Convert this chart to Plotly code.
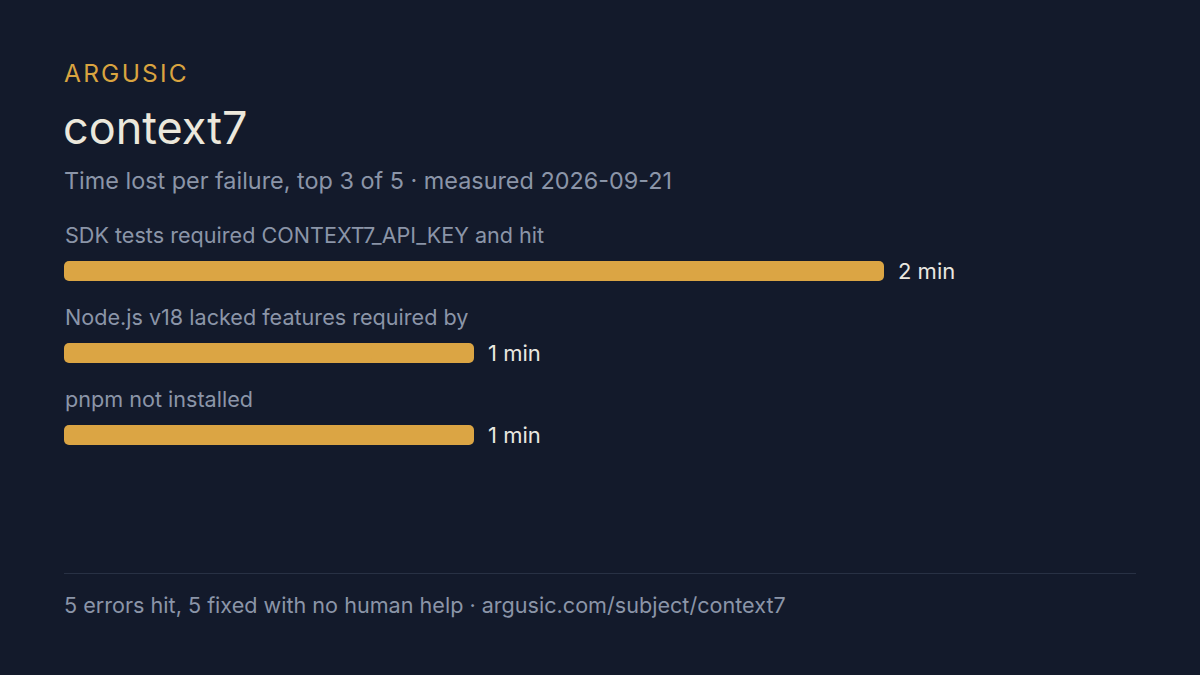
import plotly.graph_objects as go

# ---- data ----
categories = [
    "SDK tests required CONTEXT7_API_KEY and hit",
    "Node.js v18 lacked features required by",
    "pnpm not installed",
]
minutes = [2, 1, 1]
value_labels = ["2 min", "1 min", "1 min"]

brand = "ARGUSIC"
title = "context7"
subtitle = "Time lost per failure, top 3 of 5 · measured 2026-09-21"
footer = "5 errors hit, 5 fixed with no human help · argusic.com/subject/context7"

# ---- styling ----
BG = "#131a2b"
BAR = "#dba544"
GOLD = "#d9a440"
TITLE_C = "#ece8dc"
MUTED = "#8b95a8"
VALUE_C = "#e9e7e0"
FONT = "Inter, Noto Sans, sans-serif"

W, H = 1200, 675
L, R = 64, 884            # plot area x-extent (value 2 -> 884px)
TOP, BOT = 210, 476       # plot area y-extent
ROW = 82                  # px per row
FIRST = 271               # px centre of first bar


def px(xpix):
    return (xpix - L) / (R - L)


def py(ypix):
    return (BOT - ypix) / (BOT - TOP)


ys = list(range(len(categories)))
# two overlapping pieces per bar so both ends get rounded corners
right_base = [m * 0.25 for m in minutes]
right_len = [m * 0.75 for m in minutes]
left_base = [m * 0.75 for m in minutes]
left_len = [-m * 0.75 for m in minutes]

fig = go.Figure()
fig.add_trace(go.Bar(
    x=right_len, y=ys, base=right_base, orientation="h",
    marker=dict(color=BAR, line=dict(width=0)),
    width=20 / ROW, hoverinfo="skip",
))
fig.add_trace(go.Bar(
    x=left_len, y=ys, base=left_base, orientation="h",
    marker=dict(color=BAR, line=dict(width=0)),
    width=20 / ROW, hoverinfo="skip",
))

ann = []
for i, (c, v, lab) in enumerate(zip(categories, minutes, value_labels)):
    ann.append(dict(x=0, y=i, xref="x", yref="y", yshift=36, text=c,
                    xanchor="left", yanchor="middle", showarrow=False,
                    xshift=-1,
                    font=dict(family=FONT, size=21.6, color=MUTED)))
    ann.append(dict(x=v, y=i, xref="x", yref="y", xshift=12, text=lab,
                    xanchor="left", yanchor="middle", showarrow=False,
                    font=dict(family=FONT, size=22, color=VALUE_C)))

spaced_brand = "\u200a".join(brand)
ann += [
    dict(x=px(62), y=py(73), xref="paper", yref="paper", text=spaced_brand,
         xanchor="left", yanchor="middle", showarrow=False,
         font=dict(family=FONT, size=24.5, color=GOLD)),
    dict(x=px(61), y=py(127), xref="paper", yref="paper", text=title,
         xanchor="left", yanchor="middle", showarrow=False,
         font=dict(family=FONT, size=45, color=TITLE_C)),
    dict(x=px(62), y=py(180), xref="paper", yref="paper", text=subtitle,
         xanchor="left", yanchor="middle", showarrow=False,
         font=dict(family=FONT, size=23.4, color=MUTED)),
    dict(x=px(62), y=py(605), xref="paper", yref="paper", text=footer,
         xanchor="left", yanchor="middle", showarrow=False,
         font=dict(family=FONT, size=21.6, color=MUTED)),
]

fig.update_layout(
    width=W, height=H,
    paper_bgcolor=BG, plot_bgcolor=BG,
    margin=dict(l=L, r=W - R, t=TOP, b=H - BOT, pad=0),
    showlegend=False,
    barmode="overlay",
    barcornerradius=5,
    xaxis=dict(range=[0, 2], visible=False, fixedrange=True),
    yaxis=dict(range=[(BOT - FIRST) / ROW, -(FIRST - TOP) / ROW],
               visible=False, fixedrange=True),
    annotations=ann,
    shapes=[dict(type="line", xref="paper", yref="paper",
                 x0=px(64), x1=px(1136), y0=py(573.5), y1=py(573.5),
                 line=dict(color="#283144", width=1))],
)

fig.write_html(
    "out.html",
    config={"displayModeBar": False},
    post_script="document.body.style.margin='0';document.body.style.background='#131a2b';",
)
